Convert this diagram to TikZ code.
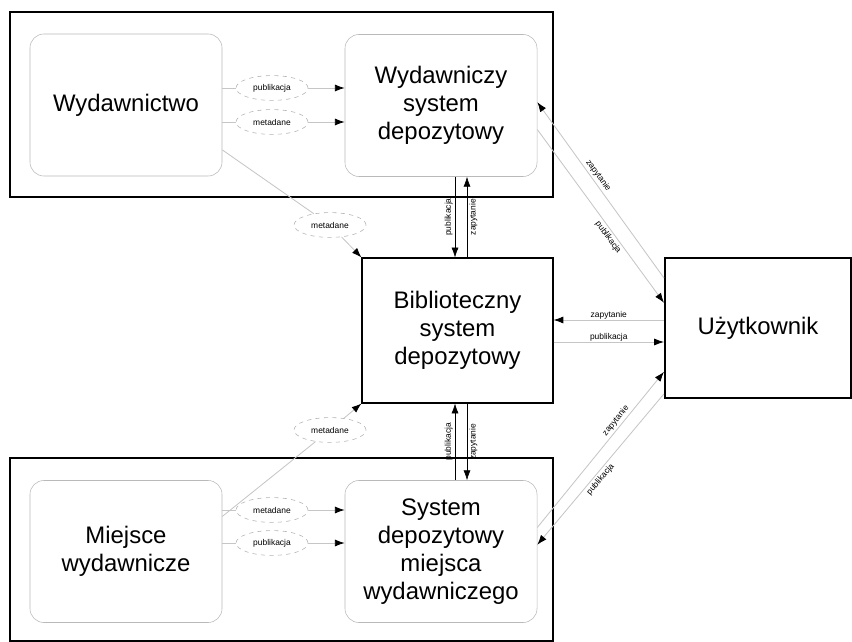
\documentclass[tikz,border=0pt]{standalone}
\usepackage{fontspec}
\setmainfont{Liberation Sans}
\usetikzlibrary{arrows.meta,shapes.geometric}

\begin{document}
\begin{tikzpicture}[x=0.025cm,y=-0.025cm,
  inner/.style={draw=gray!55,rounded corners=10pt,minimum width=4.8cm,minimum height=3.55cm,align=center,font=\fontsize{17}{20}\selectfont},
  outer/.style={draw,line width=1.4pt,minimum width=4.75cm,minimum height=3.6cm,align=center,font=\fontsize{17}{20}\selectfont},
  msg/.style={draw=gray!60,dashed,ellipse,minimum width=1.8cm,minimum height=0.62cm,inner sep=0pt,fill=white,text=black,font=\fontsize{6}{7}\selectfont},
  lbl/.style={font=\fontsize{6}{7}\selectfont,text=black,inner sep=1.5pt},
  flow/.style={gray!45,line width=0.6pt},
  tip/.style={-{Latex[black,length=7pt,width=5pt]}}]
\useasboundingbox (0,0) rectangle (852,642);

% ramki
\draw[line width=1.8pt] (10,12) rectangle (553,197);
\draw[line width=1.8pt] (10,458) rectangle (553,641);

\node[inner] (wyd) at (126,105) {Wydawnictwo};
\node[inner] (wsys) at (441,105.5) {Wydawniczy\\system\\depozytowy};
\node[outer] (lib) at (457.5,330.5) {Biblioteczny\\system\\depozytowy};
\node[outer,minimum width=4.65cm,minimum height=3.5cm] (user) at (758,328) {Użytkownik};
\node[inner] (miej) at (126,551.5) {Miejsce\\wydawnicze};
\node[inner] (msys) at (441,551.5) {System\\depozytowy\\miejsca\\wydawniczego};

% wydawnictwo
\node[msg] (m1) at (272,88) {publikacja};
\node[msg] (m2) at (272,122) {metadane};
\draw[flow] (wyd.east |- m1) -- (m1);
\draw[flow,tip] (m1) -- (wsys.west |- m1);
\draw[flow] (wyd.east |- m2) -- (m2);
\draw[flow,tip] (m2) -- (wsys.west |- m2);

% miejsce wydawnicze
\node[msg] (m3) at (272,510) {metadane};
\node[msg] (m4) at (272,543) {publikacja};
\draw[flow] (miej.east |- m3) -- (m3);
\draw[flow,tip] (m3) -- (msys.west |- m3);
\draw[flow] (miej.east |- m4) -- (m4);
\draw[flow,tip] (m4) -- (msys.west |- m4);

% metadane do biblioteki
\node[msg] (m5) at (330,225) {metadane};
\node[msg] (m6) at (330,430) {metadane};
\draw[flow] (wyd.-25) -- (m5);
\draw[flow,tip] (m5) -- (lib.north west);
\draw[flow] (miej.20) -- (m6);
\draw[flow,tip] (m6) -- (lib.south west);

% pionowe
\coordinate (v1) at (455,0);
\coordinate (v2) at (467,0);
\draw[tip] (wsys.south -| v1) -- node[lbl,rotate=90,anchor=south] {publikacja} (lib.north -| v1);
\draw[tip] (lib.north -| v2) -- node[lbl,rotate=90,anchor=north] {zapytanie} (wsys.south -| v2);
\draw[tip] (msys.north -| v1) -- node[lbl,rotate=90,anchor=south] {publikacja} (lib.south -| v1);
\draw[tip] (lib.south -| v2) -- node[lbl,rotate=90,anchor=north] {zapytanie} (msys.north -| v2);

% uzytkownik
\coordinate (h1) at (0,320);
\coordinate (h2) at (0,342);
\draw[flow,tip] (user.west |- h1) -- node[lbl,above=-1pt] {zapytanie} (lib.east |- h1);
\draw[flow,tip] (lib.east |- h2) -- node[lbl,above=-1pt] {publikacja} (user.west |- h2);

\draw[flow,tip] (user.152) -- node[lbl,sloped,above,pos=0.56] {zapytanie} (wsys.2);
\draw[flow,tip] (wsys.-14) -- node[lbl,sloped,below,pos=0.6] {publikacja} (user.165);
\draw[flow,tip] (msys.14) -- node[lbl,sloped,above,pos=0.66] {zapytanie} (user.-155);
\draw[flow,tip] (user.-145) -- node[lbl,sloped,below,pos=0.54] {publikacja} (msys.4);
\end{tikzpicture}
\end{document}
